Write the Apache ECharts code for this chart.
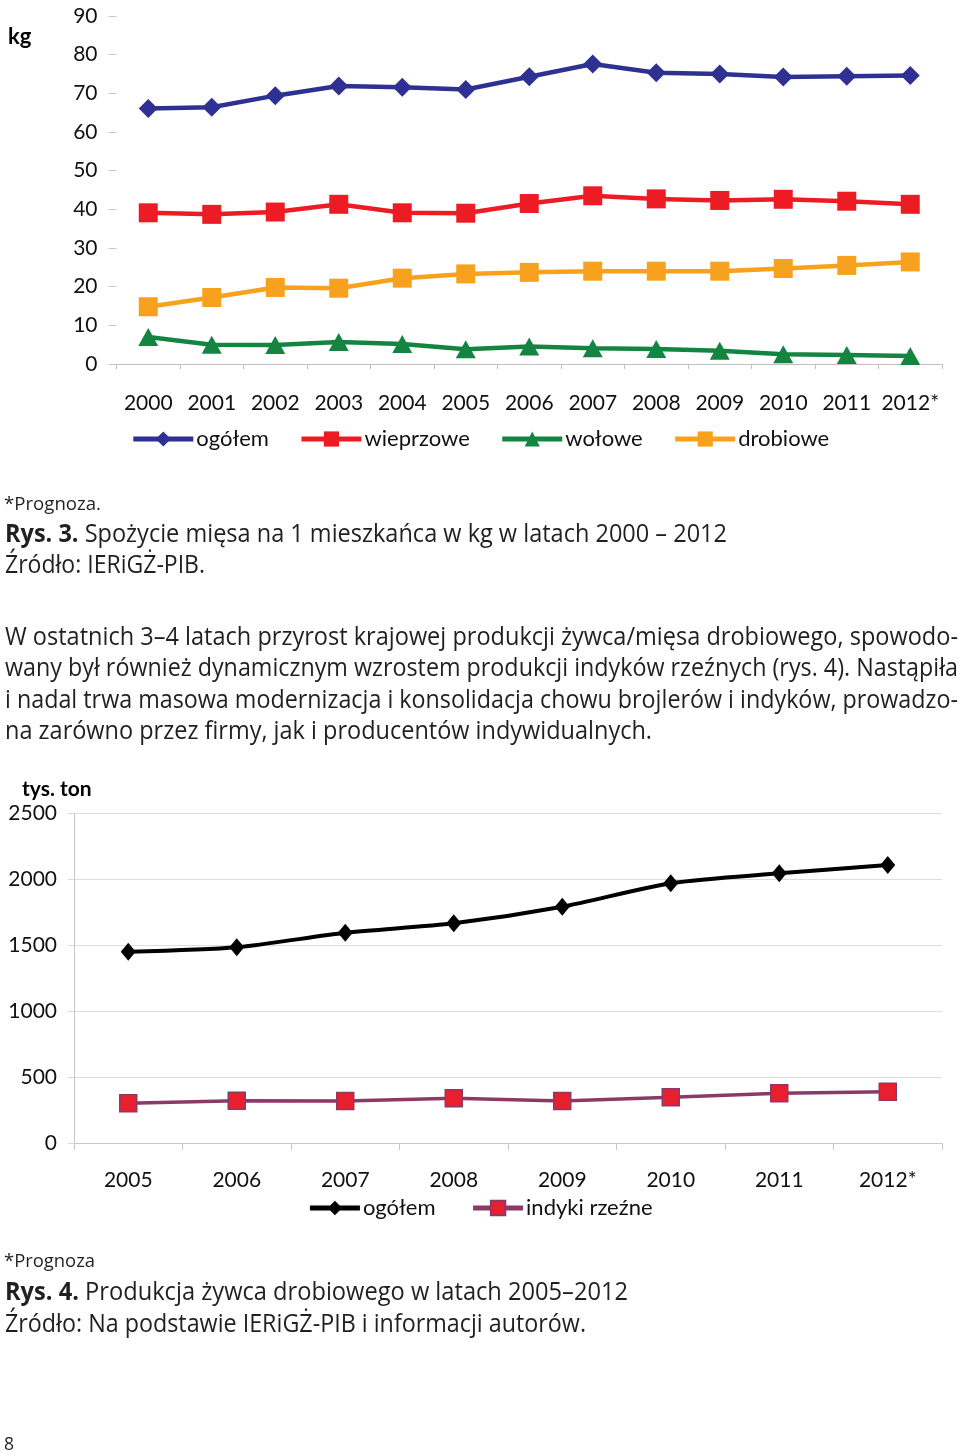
<!DOCTYPE html>
<html><head><meta charset="utf-8">
<script src="https://cdn.jsdelivr.net/npm/echarts@6/dist/echarts.min.js"></script>
<style>html,body{margin:0;padding:0;background:#fff}#c{width:960px;height:1455px}</style>
</head><body><div id="c"></div><script>
// ---- data ----
const years1 = ['2000','2001','2002','2003','2004','2005','2006','2007','2008','2009','2010','2011','2012*'];
const ogolem1 = [66.1, 66.4, 69.4, 71.9, 71.6, 71.0, 74.3, 77.6, 75.3, 75.0, 74.2, 74.4, 74.6];
const wieprzowe = [39.1, 38.7, 39.3, 41.3, 39.1, 39.0, 41.5, 43.5, 42.7, 42.3, 42.6, 42.1, 41.3];
const wolowe = [7.0, 5.0, 4.9, 5.7, 5.2, 3.8, 4.5, 4.1, 3.9, 3.4, 2.5, 2.3, 2.1];
const drobiowe = [14.8, 17.2, 19.8, 19.6, 22.2, 23.3, 23.7, 24.0, 24.0, 24.0, 24.7, 25.5, 26.4];

const years2 = ['2005','2006','2007','2008','2009','2010','2011','2012*'];
const ogolem2 = [1451, 1485, 1595, 1667, 1792, 1970, 2045, 2108];
const indyki = [303, 323, 320, 341, 320, 348, 379, 391];

const names1 = ['ogółem','wieprzowe','wołowe','drobiowe'];
const names2 = ['ogółem','indyki rzeźne'];

const caption1 = ['*Prognoza.', 'Rys. 3.', ' Spożycie mięsa na 1 mieszkańca w kg w latach 2000 – 2012', 'Źródło: IERiGŻ-PIB.'];
const paragraph = [
  'W ostatnich 3–4 latach przyrost krajowej produkcji żywca/mięsa drobiowego, spowodo-',
  'wany był również dynamicznym wzrostem produkcji indyków rzeźnych (rys. 4). Nastąpiła',
  'i nadal trwa masowa modernizacja i konsolidacja chowu brojlerów i indyków, prowadzo-',
  'na zarówno przez firmy, jak i producentów indywidualnych.'
];
const caption2 = ['*Prognoza', 'Rys. 4.', ' Produkcja żywca drobiowego w latach 2005–2012', 'Źródło: Na podstawie IERiGŻ-PIB i informacji autorów.'];

// ---- styling ----
const CH = "Lato, 'Open Sans', sans-serif";
const CAP = "'Open Sans', 'Noto Sans', sans-serif";
const TXT = '#231f20';

const mctx = document.createElement('canvas').getContext('2d');
function mw(text, size, weight, fam) { mctx.font = weight + ' ' + size + 'px ' + fam; return mctx.measureText(text).width; }

function capText(x, y, text, size, target) {
  const s = target / mw(text, size, 'normal', CAP);
  return { type: 'text', x: x, y: y, scaleX: s, silent: true,
    style: { text: text, fontSize: size, fontFamily: CAP, fill: TXT, align: 'left', verticalAlign: 'middle' } };
}
function richCap(x, y, bold, rest, size, target) {
  const s = target / (mw(bold, size, 'bold', CAP) + mw(rest, size, 'normal', CAP));
  return { type: 'text', x: x, y: y, scaleX: s, silent: true,
    style: { text: '{b|' + bold + '}' + rest, fontSize: size, fontFamily: CAP, fill: TXT, align: 'left', verticalAlign: 'middle',
      rich: { b: { fontWeight: 'bold', fontSize: size, fontFamily: CAP, fill: TXT } } } };
}

const graphics = [
  { type: 'text', x: 8, y: 37, silent: true, style: { text: 'kg', fontSize: 22, fontWeight: 'bold', fontFamily: CH, fill: '#000', align: 'left', verticalAlign: 'middle' } },
  { type: 'text', x: 22, y: 789, silent: true, style: { text: 'tys. ton', fontSize: 21, fontWeight: 'bold', fontFamily: CH, fill: '#000', align: 'left', verticalAlign: 'middle' } },
  capText(4, 505, caption1[0], 19, 97),
  richCap(5, 535, caption1[1], caption1[2], 25, 722),
  capText(5, 566, caption1[3], 25, 200),
  capText(5, 638, paragraph[0], 25, 953),
  capText(5, 669, paragraph[1], 25, 953),
  capText(5, 701, paragraph[2], 25, 953),
  capText(5, 732, paragraph[3], 25, 647),
  capText(4, 1262, caption2[0], 19, 91),
  richCap(5, 1293, caption2[1], caption2[2], 25, 623),
  capText(5, 1325, caption2[3], 25, 581),
  capText(4, 1445, '8', 19, 10)
];

const axisLabelStyle = { color: '#111', fontSize: 21, fontFamily: CH };

const option = {
  backgroundColor: '#fff',
  animation: false,
  graphic: graphics,
  legend: [
    { data: names1, left: 'center', top: 423, itemWidth: 60, itemHeight: 19, itemGap: 30,
      lineStyle: { width: 5 },
      textStyle: { color: '#111', fontSize: 22, fontFamily: CH, padding: [0,0,0,-2] } },
    { data: [
        { name: names2[0], itemStyle: { color: '#000', borderColor: '#000' }, lineStyle: { color: '#000', width: 5 } },
        { name: names2[1] }
      ],
      left: 'center', top: 1192, itemWidth: 50, itemHeight: 18, itemGap: 35,
      lineStyle: { width: 5 },
      textStyle: { color: '#111', fontSize: 22, fontFamily: CH, padding: [0,0,0,-2] } }
  ],
  grid: [
    { left: 116.5, width: 825.5, top: 16, height: 348, containLabel: false },
    { left: 74, width: 868, top: 813.3, height: 330, containLabel: false }
  ],
  xAxis: [
    { type: 'category', gridIndex: 0, data: years1, boundaryGap: true,
      axisLine: { show: true, lineStyle: { color: '#bfbfbf', width: 1 } },
      axisTick: { show: true, length: 5, interval: 0, lineStyle: { color: '#bfbfbf' } },
      axisLabel: Object.assign({ margin: 29, interval: 0 }, axisLabelStyle),
      splitLine: { show: false } },
    { type: 'category', gridIndex: 1, data: years2, boundaryGap: true,
      axisLine: { show: true, lineStyle: { color: '#c8c8c8', width: 1 } },
      axisTick: { show: true, length: 7, interval: 0, lineStyle: { color: '#c8c8c8' } },
      axisLabel: Object.assign({ margin: 26, interval: 0 }, axisLabelStyle),
      splitLine: { show: false } }
  ],
  yAxis: [
    { type: 'value', gridIndex: 0, min: 0, max: 90, interval: 10,
      axisLine: { show: false },
      axisTick: { show: true, length: 8, lineStyle: { color: '#c8c8c8' } },
      axisLabel: Object.assign({ margin: 19 }, axisLabelStyle),
      splitLine: { show: false } },
    { type: 'value', gridIndex: 1, min: 0, max: 2500, interval: 500,
      axisLine: { show: true, lineStyle: { color: '#c8c8c8', width: 1 } },
      axisTick: { show: true, length: 6, lineStyle: { color: '#d9d9d9' } },
      axisLabel: Object.assign({ margin: 17, formatter: function (v) { return String(v); } }, axisLabelStyle),
      splitLine: { show: true, lineStyle: { color: '#dcdcdc', width: 1 } } }
  ],
  series: [
    { name: names1[0], type: 'line', xAxisIndex: 0, yAxisIndex: 0, data: ogolem1,
      symbol: 'diamond', symbolSize: [19, 19], lineStyle: { color: '#2e3192', width: 4.5 }, itemStyle: { color: '#2e3192' } },
    { name: names1[1], type: 'line', xAxisIndex: 0, yAxisIndex: 0, data: wieprzowe,
      symbol: 'rect', symbolSize: 19, lineStyle: { color: '#ed1c24', width: 4.5 }, itemStyle: { color: '#ed1c24' } },
    { name: names1[2], type: 'line', xAxisIndex: 0, yAxisIndex: 0, data: wolowe,
      symbol: 'triangle', symbolSize: [20, 18], lineStyle: { color: '#138541', width: 4.5 }, itemStyle: { color: '#138541' } },
    { name: names1[3], type: 'line', xAxisIndex: 0, yAxisIndex: 0, data: drobiowe,
      symbol: 'rect', symbolSize: 19, lineStyle: { color: '#f7a11e', width: 4.5 }, itemStyle: { color: '#f7a11e' } },
    { name: names2[0], type: 'line', xAxisIndex: 1, yAxisIndex: 1, data: ogolem2, smooth: 0.25,
      symbol: 'diamond', symbolSize: [15, 18], lineStyle: { color: '#000', width: 4 }, itemStyle: { color: '#000' } },
    { name: names2[1], type: 'line', xAxisIndex: 1, yAxisIndex: 1, data: indyki,
      symbol: 'rect', symbolSize: 17, lineStyle: { color: '#8b3a68', width: 3.5 },
      itemStyle: { color: '#e8202e', borderColor: '#8b3a68', borderWidth: 1.5 } }
  ]
};

const chart = echarts.init(document.getElementById('c'), null, { renderer: 'canvas' });
chart.setOption(option);
</script></body></html>
